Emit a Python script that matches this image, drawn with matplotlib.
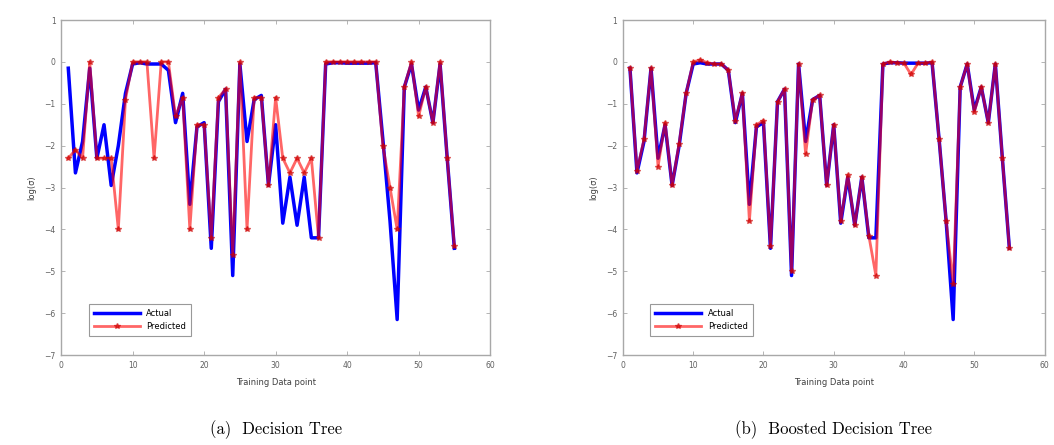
import matplotlib
matplotlib.use('Agg')
import matplotlib.pyplot as plt
import numpy as np

# data
points = np.arange(1, 56)
actual = [-0.15, -2.65, -1.9, -0.15, -2.3, -1.5, -2.95, -2.0, -0.75, -0.05,
          -0.02, -0.05, -0.05, -0.05, -0.2, -1.45, -0.75, -3.4, -1.55, -1.45,
          -4.45, -0.95, -0.65, -5.1, -0.05, -1.9, -0.9, -0.8, -2.95, -1.5,
          -3.85, -2.75, -3.9, -2.75, -4.2, -4.2, -0.05, -0.02, -0.02, -0.03,
          -0.03, -0.03, -0.03, -0.02, -1.85, -3.8, -6.15, -0.6, -0.05, -1.15,
          -0.6, -1.45, -0.05, -2.3, -4.45]
pred_tree = [-2.3, -2.1, -2.3, 0.0, -2.3, -2.3, -2.3, -4.0, -0.9, 0.0,
             0.0, 0.0, -2.3, 0.0, 0.0, -1.3, -0.85, -4.0, -1.5, -1.5,
             -4.2, -0.85, -0.65, -4.6, 0.0, -4.0, -0.85, -0.85, -2.95, -0.85,
             -2.3, -2.65, -2.3, -2.65, -2.3, -4.2, 0.0, 0.0, 0.0, 0.0,
             0.0, 0.0, 0.0, 0.0, -2.0, -3.0, -4.0, -0.6, 0.0, -1.3,
             -0.6, -1.45, 0.0, -2.3, -4.4]
pred_boost = [-0.15, -2.6, -1.85, -0.15, -2.5, -1.45, -2.95, -1.95, -0.75, 0.0,
              0.05, -0.02, -0.05, -0.05, -0.2, -1.4, -0.75, -3.8, -1.5, -1.4,
              -4.4, -0.95, -0.65, -5.0, -0.05, -2.2, -0.9, -0.8, -2.95, -1.5,
              -3.8, -2.7, -3.9, -2.75, -4.15, -5.1, -0.05, 0.0, -0.02, -0.03,
              -0.3, -0.03, -0.03, 0.0, -1.85, -3.8, -5.3, -0.6, -0.05, -1.2,
              -0.6, -1.45, -0.05, -2.3, -4.45]
captions = ['(a)  Decision Tree', '(b)  Boosted Decision Tree']

fig = plt.figure(figsize=(10.54, 4.45), dpi=100)
ax1 = fig.add_axes([0.058, 0.202, 0.407, 0.753])
ax2 = fig.add_axes([0.591, 0.202, 0.400, 0.753])

frame = '#a8a8a8'
for ax, pred, cap in zip([ax1, ax2], [pred_tree, pred_boost], captions):
    ax.plot(points, actual, color='#0000ff', lw=2.5, label='Actual')
    ax.plot(points, pred, color='#ff0000', lw=2.0, alpha=0.6,
            marker='*', ms=4, mfc='#cc0000', mec='#cc0000', label='Predicted')
    ax.set_xlim(0, 60)
    ax.set_ylim(-7, 1)
    ax.set_xticks(range(0, 61, 10))
    ax.set_yticks(range(-7, 2))
    ax.tick_params(direction='in', length=3, width=0.6, labelsize=5.5,
                   colors=frame, labelcolor='#606060', top=True, right=True, pad=4)
    for s in ax.spines.values():
        s.set_color(frame)
        s.set_linewidth(1.0)
    ax.set_xlabel('Training Data point', fontsize=6, color='#404040', labelpad=6)
    ax.set_ylabel('log(σ)', fontsize=6, color='#404040', labelpad=6)
    leg = ax.legend(loc='lower left', bbox_to_anchor=(0.055, 0.045), fontsize=6,
                    handlelength=5.5, fancybox=False, borderpad=0.6,
                    labelspacing=0.5)
    leg.get_frame().set_edgecolor('#808080')
    leg.get_frame().set_linewidth(0.8)
    bb = ax.get_position()
    fig.text((bb.x0 + bb.x1) / 2, 0.035, cap, ha='center', va='center',
             fontsize=12, family='cmr10')

fig.savefig('out.png', dpi=100)
